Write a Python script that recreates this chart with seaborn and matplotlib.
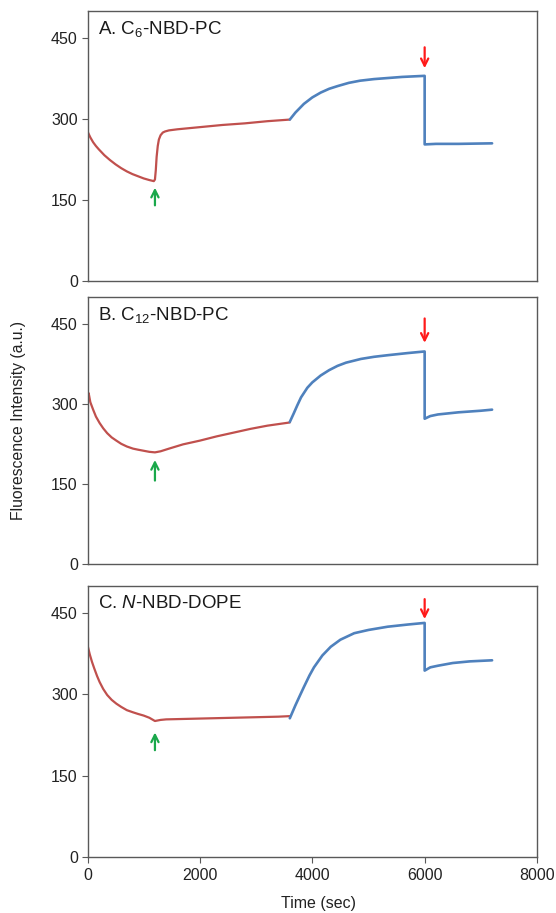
import numpy as np
import pandas as pd
import matplotlib
matplotlib.use("Agg")
import matplotlib.pyplot as plt
import seaborn as sns

sns.set_style("white")
plt.rcParams['font.family'] = ['Liberation Sans', 'DejaVu Sans']
plt.rcParams['mathtext.fontset'] = 'custom'
plt.rcParams['mathtext.rm'] = 'Liberation Sans'
plt.rcParams['mathtext.it'] = 'Liberation Sans:italic'

# Panel A: C6-NBD-PC
a_red_t = [0, 50, 100, 150, 200, 300, 400, 500, 600, 700, 800, 900, 1000, 1100, 1180, 1200, 1215, 1230, 1250, 1270, 1300, 1340, 1380, 1450, 1600, 2000, 2400, 2800, 3200, 3600]
a_red_y = [277, 266, 257, 250, 244, 233, 224, 216, 209, 203, 198, 194, 190, 187, 185, 188, 205, 230, 250, 262, 270, 275, 277, 279, 281, 285, 289, 292, 296, 299]
a_blue_t = [3600, 3700, 3850, 4000, 4150, 4300, 4450, 4650, 4850, 5100, 5350, 5600, 5800, 6000, 6000, 6200, 6600, 7200]
a_blue_y = [299, 312, 328, 340, 349, 356, 361, 367, 371, 374, 376, 378, 379, 380, 253, 254, 254, 255]

# Panel B: C12-NBD-PC
b_red_t = [0, 20, 50, 100, 150, 215, 280, 350, 430, 513, 600, 700, 810, 900, 1000, 1100, 1200, 1300, 1450, 1700, 2000, 2300, 2600, 2900, 3200, 3600]
b_red_y = [312, 320, 303, 289, 276, 264, 254, 245, 237, 231, 225, 220, 216, 214, 212, 210, 209, 211, 216, 224, 231, 239, 246, 253, 259, 265]
b_blue_t = [3600, 3670, 3733, 3800, 3912, 4000, 4150, 4300, 4449, 4600, 4866, 5100, 5343, 5700, 6000, 6000, 6100, 6236, 6600, 7000, 7200]
b_blue_y = [266, 282, 297, 312, 330, 340, 353, 363, 371, 377, 384, 388, 391, 395, 398, 272, 277, 280, 284, 287, 289]

# Panel C: N-NBD-DOPE
c_red_t = [0, 40, 80, 120, 170, 215, 280, 350, 430, 513, 600, 700, 810, 900, 1000, 1100, 1200, 1300, 1400, 1800, 2200, 2600, 3000, 3400, 3600]
c_red_y = [391, 374, 360, 348, 334, 323, 310, 299, 290, 283, 277, 271, 267, 264, 261, 257, 251, 253, 254, 255, 256, 257, 258, 259, 260]
c_blue_t = [3600, 3700, 3780, 3852, 3950, 4030, 4180, 4329, 4500, 4746, 5000, 5343, 5700, 6000, 6000, 6100, 6236, 6500, 6800, 7200]
c_blue_y = [256, 280, 298, 314, 335, 350, 372, 388, 401, 413, 419, 425, 429, 432, 344, 350, 353, 358, 361, 363]

titles = [r"A. C$_6$-NBD-PC", r"B. C$_{12}$-NBD-PC", r"C. $N$-NBD-DOPE"]
# arrows: (x, y_tail, y_head)
green_arrows = [(1200, 135, 178), (1200, 151, 200), (1200, 192, 235)]
red_arrows = [(6000, 438, 389), (6000, 465, 409), (6000, 481, 434)]

red = "#C0504D"
blue = "#4F81BD"
green = "#1AA84B"
arrow_red = "#FF1A1A"
spine_col = "#595959"

fig = plt.figure(figsize=(5.56, 9.13), dpi=100)
rects = [
    [0.1574, 0.6922, 0.8085, 0.2957],
    [0.1574, 0.3823, 0.8085, 0.2924],
    [0.1574, 0.0613, 0.8085, 0.2968],
]
data = [
    (a_red_t, a_red_y, a_blue_t, a_blue_y),
    (b_red_t, b_red_y, b_blue_t, b_blue_y),
    (c_red_t, c_red_y, c_blue_t, c_blue_y),
]

for i, rect in enumerate(rects):
    ax = fig.add_axes(rect)
    rt, ry, bt, by = data[i]
    sns.lineplot(x=rt, y=ry, ax=ax, color=red, lw=1.6, estimator=None, sort=False)
    sns.lineplot(x=bt, y=by, ax=ax, color=blue, lw=1.9, estimator=None, sort=False)

    gx, gy0, gy1 = green_arrows[i]
    ax.annotate("", xy=(gx, gy1), xytext=(gx, gy0),
                arrowprops=dict(arrowstyle="->", color=green, lw=1.6, mutation_scale=13))
    rx, ry0, ry1 = red_arrows[i]
    ax.annotate("", xy=(rx, ry1), xytext=(rx, ry0),
                arrowprops=dict(arrowstyle="->", color=arrow_red, lw=1.6, mutation_scale=13))

    ax.set_xlim(0, 8000)
    ax.set_ylim(0, 500)
    ax.set_yticks([0, 150, 300, 450])
    ax.set_xticks([0, 2000, 4000, 6000, 8000])
    for s in ax.spines.values():
        s.set_color(spine_col)
        s.set_linewidth(1.0)
    ax.tick_params(axis='y', left=True, length=4, color=spine_col, labelsize=11.5, pad=3,
                   labelcolor='#222222')
    if i < 2:
        ax.tick_params(axis='x', bottom=False, labelbottom=False)
    else:
        ax.tick_params(axis='x', bottom=True, length=4, color=spine_col, labelsize=11.5, pad=4,
                       labelcolor='#222222')
    ax.set_xlabel("")
    ax.set_ylabel("")
    ax.text(0.023, 0.934, titles[i], transform=ax.transAxes, fontsize=13.5,
            va='center', ha='left', color='#1a1a1a')

fig.text(0.033, 0.539, "Fluorescence Intensity (a.u.)", rotation=90,
         va='center', ha='center', fontsize=11.3, color='#222222')
fig.text(0.572, 0.0099, "Time (sec)", va='center', ha='center', fontsize=11.5, color='#222222')

fig.savefig("out.png", dpi=100)
